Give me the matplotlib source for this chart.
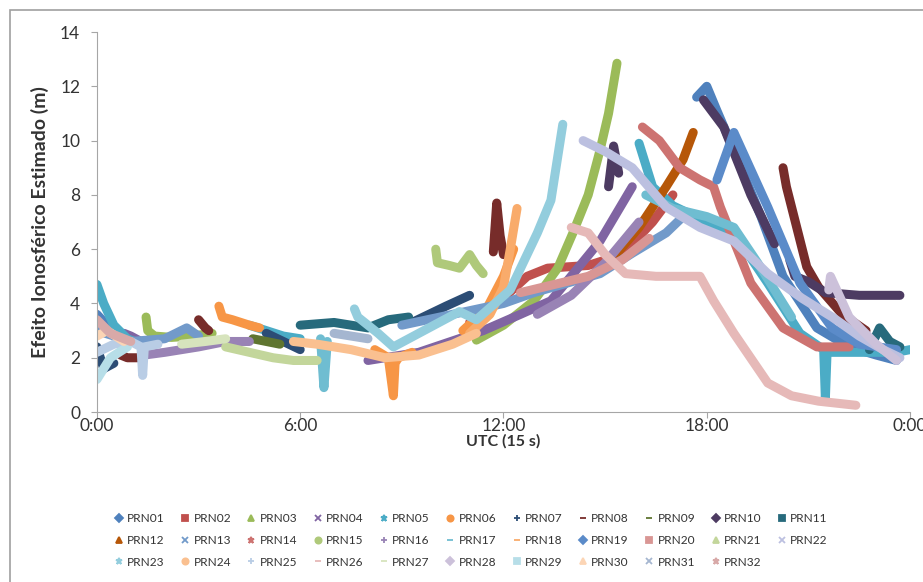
import matplotlib
matplotlib.use("Agg")
import matplotlib.pyplot as plt
import numpy as np
from matplotlib.lines import Line2D
from matplotlib.patches import Rectangle

plt.rcParams["font.family"] = ["Lato", "DejaVu Sans"]

nan = np.nan

# hours (UTC) and estimated ionospheric effect (m), passes split by nan
prn01_h = [0, 0.3, 0.8, 1.5, nan, 17.7, 18.0, 18.3, 18.8, 19.6, 20.25, 21.25, 22.2, 23.0, 23.6]
prn01_v = [3.6, 3.2, 2.7, 2.5, nan, 11.6, 12.0, 11.1, 9.65, 7.2, 5.0, 3.1, 2.4, 2.1, 1.9]
prn02_h = [11.0, 12.0, 12.7, 13.3, 14.5, 15.5, 16.4, 17.0]
prn02_v = [3.3, 4.2, 5.0, 5.3, 5.4, 5.8, 7.0, 8.0]
prn03_h = [1.45, 1.5, 1.7, 2.2, 2.8, 3.4, nan, 11.2, 12.0, 12.9, 13.6, 14.05, 14.5, 14.85, 15.1, 15.35]
prn03_v = [3.5, 3.0, 2.8, 2.75, 2.8, 2.9, nan, 2.65, 3.2, 4.1, 5.3, 6.6, 8.0, 9.65, 11.0, 12.85]
prn04_h = [0.8, 1.0, 1.3, nan, 8.0, 9.5, 11.4, 12.5, 13.4, 14.85, 15.8]
prn04_v = [2.9, 2.8, 2.6, nan, 1.9, 2.2, 3.0, 3.6, 4.1, 6.3, 8.3]
prn05_h = [0, 0.2, 0.5, 0.9, 1.3, nan, 4.5, 5.0, 5.5, 6.0, nan,
           16.0, 16.4, 17.0, 18.0, 18.8, 19.8, 20.75, 21.45, 21.5, 21.55, 22.5, 23.6, 24.0]
prn05_v = [4.7, 4.0, 3.2, 2.7, 2.5, nan, 3.2, 3.0, 2.8, 2.7, nan,
           9.9, 8.3, 7.6, 7.0, 6.6, 4.75, 2.9, 2.3, 0.5, 2.2, 2.2, 2.2, 2.3]
prn06_h = [3.6, 3.7, 4.0, 4.5, 4.8, nan, 8.2, 8.6, 8.75, 8.8, 8.9, 9.3, nan, 10.8, 11.5, 12.0, 12.3]
prn06_v = [3.9, 3.5, 3.4, 3.2, 3.1, nan, 2.3, 2.0, 0.6, 1.8, 2.0, 2.2, nan, 3.0, 3.8, 5.0, 6.0]
prn07_h = [0, 0.2, 0.5, nan, 5.0, 5.5, 6.0, nan, 9.3, 10.3, 11.0]
prn07_v = [2.4, 1.6, 1.8, nan, 2.9, 2.6, 2.3, nan, 3.3, 3.9, 4.3]
prn08_h = [0.7, 0.9, 1.2, nan, 3.0, 3.2, 3.3, nan, 11.7, 11.8, 11.9, 12.0, nan,
           20.25, 20.35, 20.95, 21.3, 22.0, 22.7]
prn08_v = [2.1, 2.0, 2.0, nan, 3.4, 3.1, 3.0, nan, 5.9, 7.7, 6.5, 5.8, nan,
           9.0, 8.3, 5.35, 4.6, 3.6, 3.0]
prn09_h = [4.6, 5.0, 5.4]
prn09_v = [2.7, 2.6, 2.5]
prn10_h = [15.1, 15.25, 15.4, nan, 17.9, 18.5, 19.3, 20.0, nan, 20.45, 20.6, 21.0, 21.5, 22.5, 23.7]
prn10_v = [8.3, 9.8, 8.8, nan, 11.5, 10.5, 8.0, 6.2, nan, 5.6, 5.0, 4.8, 4.4, 4.3, 4.3]
prn11_h = [6.0, 7.0, 8.0, 8.6, 9.2, nan, 22.8, 23.1, 23.4, 23.7]
prn11_v = [3.2, 3.3, 3.1, 3.4, 3.5, nan, 2.3, 3.1, 2.6, 2.4]
prn12_h = [15.35, 16.0, 16.8, 17.3, 17.6]
prn12_v = [5.85, 6.8, 8.3, 9.3, 10.3]
prn13_h = [0, 0.5, 1.0, 2.0, 2.65, 3.0, nan, 9.0, 10.5, 12.0, 12.9, 14.85, 15.8, 16.8, 17.3]
prn13_v = [3.0, 2.8, 2.6, 2.7, 3.1, 2.8, nan, 3.2, 3.6, 4.0, 4.4, 5.1, 5.85, 6.6, 7.2]
prn14_h = [16.1, 16.6, 17.2, 17.8, 18.2, 18.4, 19.3, 20.25, 21.25, 22.2]
prn14_v = [10.5, 10.0, 9.0, 8.55, 8.3, 7.55, 4.75, 3.1, 2.4, 2.4]
prn15_h = [10.0, 10.05, 10.4, 10.7, 11.0, 11.2, 11.4]
prn15_v = [6.0, 5.5, 5.4, 5.3, 5.8, 5.4, 5.1]
prn16_h = [1.4, 2.0, 3.0, 3.8, 4.5, nan, 13.0, 14.0, 15.0, 16.0]
prn16_v = [2.1, 2.2, 2.4, 2.6, 2.6, nan, 3.6, 4.3, 5.5, 7.0]
prn17_h = [6.6, 6.7, 6.8, nan, 16.2, 17.0, 18.0, 18.8, 19.5, 20.5]
prn17_v = [2.7, 0.9, 2.6, nan, 8.0, 7.5, 7.2, 6.8, 5.5, 3.5]
prn18_h = [11.0, 11.6, 12.0, 12.2, 12.4]
prn18_v = [2.9, 3.6, 4.6, 6.0, 7.5]
prn19_h = [18.3, 18.8, 19.8, 20.75, 21.7, 22.5, 23.6]
prn19_v = [8.55, 10.3, 7.55, 4.75, 3.1, 2.5, 2.3]
prn20_h = [12.5, 13.5, 14.5, 15.5, 16.3]
prn20_v = [4.4, 4.7, 5.0, 5.6, 6.4]
prn21_h = [3.8, 4.5, 5.2, 5.8, 6.5]
prn21_v = [2.4, 2.2, 2.0, 1.9, 1.9]
prn22_h = [14.35, 15.0, 15.8, 16.8, 17.8, 18.8, 19.8, 20.8, 21.7, 22.5, 23.2, 23.7]
prn22_v = [10.0, 9.6, 9.0, 7.55, 6.8, 6.3, 5.1, 4.2, 3.5, 2.8, 2.3, 2.0]
prn23_h = [7.6, 7.7, 7.9, 8.3, 8.75, 9.5, 10.7, 11.2, 12.2, 13.0, 13.4, 13.75]
prn23_v = [3.8, 3.5, 3.3, 2.9, 2.4, 2.9, 3.7, 3.4, 4.5, 6.6, 7.8, 10.6]
prn24_h = [5.8, 6.5, 7.5, 8.5, 9.5, 10.5, 11.2]
prn24_v = [2.6, 2.5, 2.3, 2.0, 2.1, 2.5, 2.9]
prn25_h = [0, 0.5, 1.0, 1.3, 1.35, 1.4, 1.8]
prn25_v = [2.2, 2.5, 2.6, 2.4, 1.35, 2.4, 2.5]
prn26_h = [14.0, 14.5, 15.0, 15.6, 16.5, 17.8, 18.2, 18.8, 19.8, 20.5, 21.3, 22.4]
prn26_v = [6.8, 6.6, 5.8, 5.1, 5.0, 5.0, 4.1, 2.9, 1.07, 0.6, 0.4, 0.25]
prn27_h = [2.5, 3.2, 3.8]
prn27_v = [2.5, 2.6, 2.7]
prn28_h = [21.6, 21.65, 22.2, 23.0, 23.6]
prn28_v = [4.5, 5.0, 3.5, 2.5, 1.9]
prn29_h = [0, 0.4, 0.9]
prn29_v = [1.2, 2.0, 2.4]
prn30_h = [0, 0.3, 0.8]
prn30_v = [2.8, 3.0, 2.6]
prn31_h = [7.0, 7.5, 8.0]
prn31_v = [2.9, 2.8, 2.7]
prn32_h = [0, 0.4, 1.0]
prn32_v = [3.4, 2.9, 2.6]

series_h = [prn01_h, prn02_h, prn03_h, prn04_h, prn05_h, prn06_h, prn07_h, prn08_h,
            prn09_h, prn10_h, prn11_h, prn12_h, prn13_h, prn14_h, prn15_h, prn16_h,
            prn17_h, prn18_h, prn19_h, prn20_h, prn21_h, prn22_h, prn23_h, prn24_h,
            prn25_h, prn26_h, prn27_h, prn28_h, prn29_h, prn30_h, prn31_h, prn32_h]
series_v = [prn01_v, prn02_v, prn03_v, prn04_v, prn05_v, prn06_v, prn07_v, prn08_v,
            prn09_v, prn10_v, prn11_v, prn12_v, prn13_v, prn14_v, prn15_v, prn16_v,
            prn17_v, prn18_v, prn19_v, prn20_v, prn21_v, prn22_v, prn23_v, prn24_v,
            prn25_v, prn26_v, prn27_v, prn28_v, prn29_v, prn30_v, prn31_v, prn32_v]
labels = [f"PRN{i:02d}" for i in range(1, 33)]

colors = ["#4F81BD", "#C0504D", "#9BBB59", "#8064A2", "#4BACC6", "#F79646",
          "#2C4D75", "#772C2A", "#5F7530", "#4D3B62", "#276A7C", "#B65708",
          "#729ACA", "#CD7371", "#AFC97A", "#9983B5", "#6FBDD1", "#F9AB6B",
          "#5B8BC9", "#D99694", "#C3D69B", "#BCC0E0", "#93CDDD", "#FAC090",
          "#B9CDE5", "#E6B9B8", "#D7E4BD", "#CCC1DA", "#B7DEE8", "#FCD5B5",
          "#A5B6D0", "#D8A9A8"]
markers = ["D", "s", "^", "x", "*", "o", "+", "_", "_", "D", "s",
           "^", "x", "*", "o", "+", "_", "_", "D", "s", "^", "x",
           "*", "o", "+", "_", "_", "D", "s", "^", "x", "*"]

fig = plt.figure(figsize=(9.23, 5.82), dpi=100)
ax = fig.add_axes([0.105, 0.292, 0.881, 0.653])

for h, v, c in zip(series_h, series_v, colors):
    ax.plot(h, v, color=c, lw=6.5, solid_capstyle="round", solid_joinstyle="round")

ax.set_xlim(0, 24)
ax.set_ylim(0, 14)
ax.set_xticks([0, 6, 12, 18, 24])
ax.set_xticklabels(["0:00", "6:00", "12:00", "18:00", "0:00"])
ax.set_yticks(range(0, 15, 2))
for s in ["top", "right"]:
    ax.spines[s].set_visible(False)
for s in ["left", "bottom"]:
    ax.spines[s].set_color("#A6A6A6")
ax.tick_params(axis="both", colors="#A6A6A6", labelcolor="#333333", labelsize=12.5,
               length=4, direction="out")
ax.tick_params(axis="x", pad=0)
ax.tick_params(axis="y", pad=8)
ax.set_xlabel("UTC (15 s)", fontsize=11.5, fontweight="bold", color="#333333", labelpad=0)
ax.set_ylabel("Efeito Ionosférico Estimado (m)", fontsize=14, fontweight="bold",
              color="#333333", labelpad=8)

# legend flows row-wise like Excel: reorder for matplotlib's column filling
handles = [Line2D([], [], ls="none", marker=m, color=c, markersize=4.5, markeredgewidth=1.3)
           for m, c in zip(markers, colors)]
order = [r * 11 + j for j in range(11) for r in range(3) if r * 11 + j < 32]
fig.legend([handles[i] for i in order], [labels[i] for i in order], ncol=11,
           loc="upper left", bbox_to_anchor=(114 / 923, 1 - 513 / 582), frameon=False,
           fontsize=8.6, handlelength=0.8, handletextpad=0.3, columnspacing=1.3,
           labelspacing=0.9, borderaxespad=0, borderpad=0, labelcolor="#333333")

fig.patches.append(Rectangle((10 / 923, -0.1), 1.2, 1.1 - 10 / 582,
                             transform=fig.transFigure, fill=False,
                             edgecolor="#A0A0A0", lw=1.2))

fig.savefig("out.png", dpi=100)
